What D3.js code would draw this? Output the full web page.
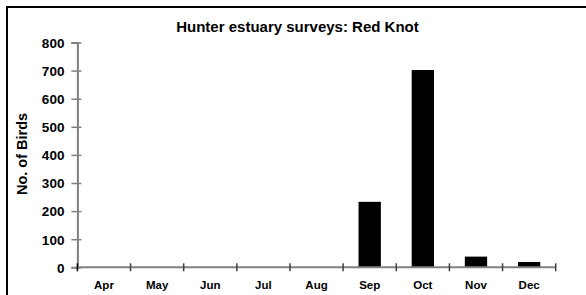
<!DOCTYPE html>
<html>
<head>
<meta charset="utf-8">
<script src="https://cdn.jsdelivr.net/npm/d3@7/dist/d3.min.js"></script>
<style>
  body { margin: 0; background: #fff; }
  svg text { font-family: "Liberation Sans", Arial, sans-serif; font-weight: bold; }
</style>
</head>
<body>
<div class="canva"></div>
<script>
// data
const months = ['Apr', 'May', 'Jun', 'Jul', 'Aug', 'Sep', 'Oct', 'Nov', 'Dec'];
const birds = [0, 0, 0, 0, 0, 233, 702, 38, 19];
const yTicks = [0, 100, 200, 300, 400, 500, 600, 700, 800];

const width = 586, height = 295;
const margin = {top: 42.5, right: 30, bottom: 27.7, left: 77.4};
const graphWidth = 555.7 - margin.left;
const graphHeight = 267.3 - margin.top;

const svg = d3.select('.canva').append('svg')
    .attr('width', width)
    .attr('height', height);

// outer frame
svg.append('rect')
    .attr('x', 7).attr('y', 7)
    .attr('width', 600).attr('height', 300)
    .attr('fill', 'none')
    .attr('stroke', '#000')
    .attr('stroke-width', 2);

svg.append('text')
    .attr('x', 297.5).attr('y', 31.5)
    .attr('text-anchor', 'middle')
    .attr('font-size', 15)
    .text('Hunter estuary surveys: Red Knot');

const graph = svg.append('g')
    .attr('transform', `translate(${margin.left}, ${margin.top})`);

const y = d3.scaleLinear()
    .domain([0, 800])
    .range([graphHeight, 0]);

const x = d3.scaleBand()
    .domain(months)
    .range([0, graphWidth])
    .paddingInner(0.58)
    .paddingOuter(0.29);

graph.selectAll('rect')
    .data(birds)
    .enter().append('rect')
    .attr('x', (d, i) => x(months[i]))
    .attr('y', d => y(d))
    .attr('width', x.bandwidth())
    .attr('height', d => graphHeight - y(d))
    .attr('fill', '#000');

// y axis
const yAxis = d3.axisLeft(y).tickValues(yTicks).tickSize(6).tickPadding(7);
const yg = graph.append('g').call(yAxis);
yg.select('.domain').attr('stroke', '#808080').attr('stroke-width', 2);
yg.selectAll('.tick line').attr('stroke', '#808080').attr('stroke-width', 1.5).attr('x2', -6).attr('x1', 4);
yg.selectAll('.tick text').attr('font-size', 13.5).attr('fill', '#000').attr('dy', '0.36em')
    .style('font-family', '"Liberation Sans", Arial, sans-serif').style('font-weight', 'bold');

// x axis: ticks at band edges
const edges = d3.range(months.length + 1).map(i => i * graphWidth / months.length);
const xg = graph.append('g').attr('transform', `translate(0, ${graphHeight})`);
xg.append('line')
    .attr('x1', 0).attr('x2', graphWidth)
    .attr('stroke', '#808080').attr('stroke-width', 2);
xg.selectAll('.edge')
    .data(edges)
    .enter().append('line')
    .attr('x1', d => d).attr('x2', d => d)
    .attr('y1', -4).attr('y2', 4)
    .attr('stroke', (d, i) => i === 0 ? '#000' : '#404040')
    .attr('stroke-width', 1.5);
xg.selectAll('.lbl')
    .data(months)
    .enter().append('text')
    .attr('x', d => x(d) + x.bandwidth() / 2)
    .attr('y', 21.5)
    .attr('text-anchor', 'middle')
    .attr('font-size', 11.5)
    .text(d => d);

// y label
svg.append('text')
    .attr('transform', 'translate(27, 154) rotate(-90)')
    .attr('text-anchor', 'middle')
    .attr('font-size', 14.5)
    .text('No. of Birds');
</script>
</body>
</html>
